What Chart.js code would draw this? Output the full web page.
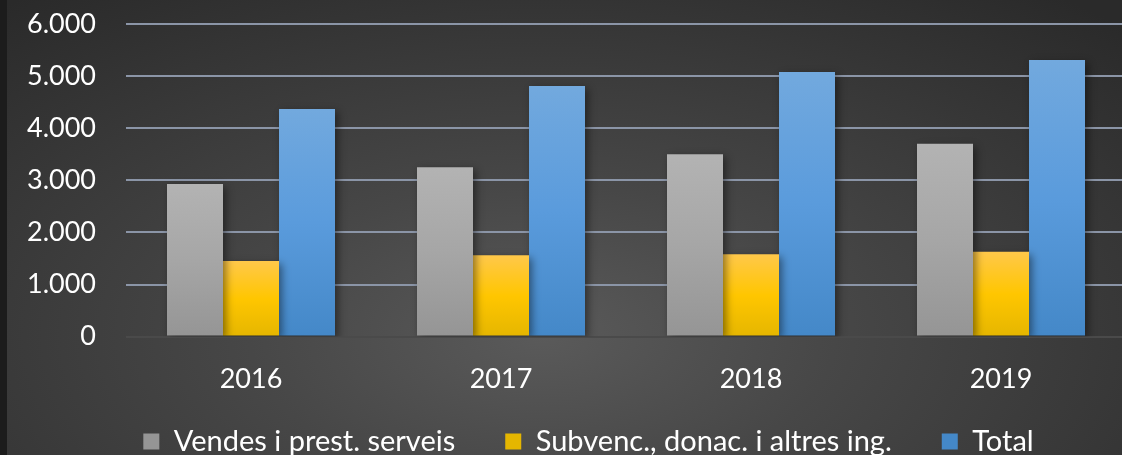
<!DOCTYPE html>
<html>
<head>
<meta charset="utf-8">
<script src="https://cdn.jsdelivr.net/npm/chart.js@4"></script>
<style>
  html, body { margin: 0; padding: 0; background: #1c1c1c; overflow: hidden; }
  #wrap {
    position: absolute; left: 7px; top: 0; width: 1115px; height: 455px; overflow: hidden;
    background: radial-gradient(ellipse 75% 95% at 48% 74%, #5a5a5a 0%, #474747 35%, #2a2a2a 100%);
  }
  #box { position: absolute; left: 0; top: 0; width: 1119px; height: 502px; }
</style>
</head>
<body>
<div id="wrap"><div id="box"><canvas id="incomeChart"></canvas></div></div>
<script>
// Ingressos per any (valors llegits del gràfic)
const years = ['2016', '2017', '2018', '2019'];
const vendes = [2930, 3250, 3500, 3700];
const subvencions = [1450, 1560, 1580, 1630];
const total = [4370, 4810, 5080, 5310];
const yTicks = [0, 1000, 2000, 3000, 4000, 5000, 6000];

const seriesNames = ['Vendes i prest. serveis', 'Subvenc., donac. i altres ing.', 'Total'];

// top -> bottom colour stops for each series
const gradStops = [
    ['#b3b3b3', '#a6a6a6', '#959595'],
    ['#ffc84a', '#ffc600', '#e5b600'],
    ['#72a9de', '#5a9bdc', '#4488c8']
];

function fmt(v) {
    return String(v).replace(/\B(?=(\d{3})+(?!\d))/g, '.');
}

function barFill(i) {
    return (ctx) => {
        const chart = ctx.chart;
        const stops = gradStops[i];
        if (ctx.type !== 'data' || !chart.chartArea) return stops[1];
        const y = chart.scales.y;
        const top = y.getPixelForValue(ctx.raw);
        const bottom = y.getPixelForValue(0);
        const g = chart.ctx.createLinearGradient(0, top, 0, bottom);
        g.addColorStop(0, stops[0]);
        g.addColorStop(0.5, stops[1]);
        g.addColorStop(1, stops[2]);
        return g;
    };
}

// soft drop shadow under bars, like the office chart
const barShadow = {
    id: 'barShadow',
    beforeDatasetsDraw(chart) {
        const c = chart.ctx;
        c.save();
        c.shadowColor = 'rgba(0,0,0,0.45)';
        c.shadowBlur = 8;
        c.shadowOffsetX = 3;
        c.shadowOffsetY = 3;
    },
    afterDatasetsDraw(chart) {
        chart.ctx.restore();
    }
};

// move the legend: a bit right, and up closer to the year labels
const legendShift = {
    id: 'legendShift',
    afterLayout(chart) {
        const lg = chart.legend;
        lg.left += 22;
        lg.right += 22;
        lg.top -= 36;
        lg.bottom -= 36;
    }
};

Chart.defaults.font.family = 'Lato, "Open Sans", sans-serif';
Chart.defaults.color = '#ffffff';

new Chart(document.getElementById('incomeChart'), {
    type: 'bar',
    data: {
        labels: years,
        datasets: [
            { label: seriesNames[0], data: vendes, backgroundColor: barFill(0) },
            { label: seriesNames[1], data: subvencions, backgroundColor: barFill(1) },
            { label: seriesNames[2], data: total, backgroundColor: barFill(2) }
        ]
    },
    options: {
        responsive: true,
        maintainAspectRatio: false,
        animation: false,
        layout: { padding: { top: 24, right: 0, left: 0, bottom: 0 } },
        datasets: {
            bar: { categoryPercentage: 0.672, barPercentage: 1.0, borderWidth: 0 }
        },
        scales: {
            x: {
                grid: { display: false },
                border: { display: false },
                ticks: { font: { size: 27 }, padding: 18, color: '#ffffff' }
            },
            y: {
                min: 0,
                max: 6000,
                afterBuildTicks: (axis) => { axis.ticks = yTicks.map(v => ({ value: v })); },
                afterFit: (axis) => { axis.width = 119; },
                border: { display: false },
                grid: {
                    drawTicks: true,
                    tickLength: 30,
                    tickColor: 'rgba(0,0,0,0)',
                    lineWidth: 2,
                    color: (c) => c.tick && c.tick.value === 0 ? '#4a4a4a' : '#8b95a7'
                },
                ticks: {
                    padding: 0,
                    font: { size: 27 },
                    color: '#ffffff',
                    callback: (v) => fmt(v)
                }
            }
        },
        plugins: {
            legend: {
                position: 'bottom',
                labels: {
                    boxWidth: 16,
                    boxHeight: 16,
                    padding: 50,
                    font: { size: 29 },
                    color: '#ffffff'
                }
            },
            tooltip: { enabled: false }
        }
    },
    plugins: [barShadow, legendShift]
});
</script>
</body>
</html>
